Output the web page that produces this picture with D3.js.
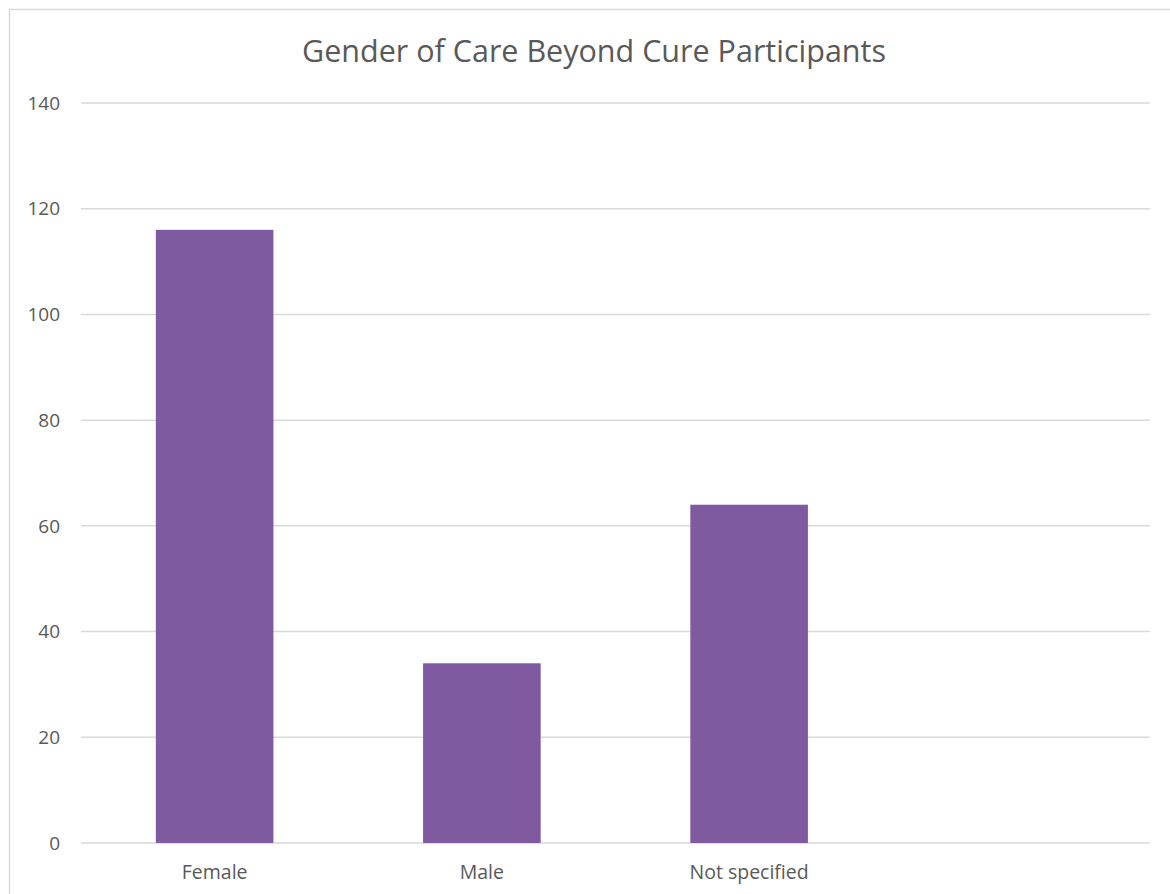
<!DOCTYPE html>
<html>
<head>
<meta charset="utf-8">
<script src="https://cdn.jsdelivr.net/npm/d3@7/dist/d3.min.js"></script>
<style>
  html, body { margin: 0; padding: 0; background: #fff; }
  svg { display: block; }
  text { font-family: "Open Sans", Lato, sans-serif; fill: #595959; }
</style>
</head>
<body>
<svg id="chart" width="1170" height="894"></svg>
<script>
// Participant counts by gender; the last slot is an empty category
const categories = ["Female", "Male", "Not specified", ""];
const counts = [116, 34, 64, null];
const yTicks = [0, 20, 40, 60, 80, 100, 120, 140];
const title = "Gender of Care Beyond Cure Participants";

const svg = d3.select("#chart");
const W = 1170, H = 894;
const plot = { left: 81, right: 1150, top: 103, bottom: 843 };

// chart area frame
svg.append("rect")
  .attr("x", 9.5).attr("y", 9.5)
  .attr("width", W).attr("height", H)
  .attr("fill", "#fff")
  .attr("stroke", "#d9d9d9").attr("stroke-width", 1.5);

const x = d3.scaleBand()
  .domain(categories.map((c, i) => i))
  .range([plot.left, plot.right])
  .paddingInner(0.56).paddingOuter(0.28);

const y = d3.scaleLinear()
  .domain([0, 140])
  .range([plot.bottom, plot.top]);

// horizontal gridlines
svg.append("g")
  .selectAll("line")
  .data(yTicks)
  .join("line")
  .attr("x1", plot.left).attr("x2", plot.right)
  .attr("y1", d => y(d)).attr("y2", d => y(d))
  .attr("stroke", "#d9d9d9").attr("stroke-width", 1.5);

// y tick labels
svg.append("g")
  .selectAll("text")
  .data(yTicks)
  .join("text")
  .attr("x", 60)
  .attr("y", d => y(d))
  .attr("dy", "0.35em")
  .attr("text-anchor", "end")
  .style("font-size", "19px")
  .text(d => d);

// bars
const data = categories.map((c, i) => ({ i, c, v: counts[i] })).filter(d => d.v != null);
svg.append("g")
  .selectAll("rect")
  .data(data)
  .join("rect")
  .attr("x", d => x(d.i))
  .attr("width", x.bandwidth())
  .attr("y", d => y(d.v))
  .attr("height", d => y(0) - y(d.v))
  .attr("fill", "#805aa0");

// category labels
svg.append("g")
  .selectAll("text")
  .data(categories.map((c, i) => ({ c, i })))
  .join("text")
  .attr("x", d => x(d.i) + x.bandwidth() / 2)
  .attr("y", 879)
  .attr("text-anchor", "middle")
  .style("font-size", "19.5px")
  .text(d => d.c);

// title
svg.append("text")
  .attr("x", 594)
  .attr("y", 62)
  .attr("text-anchor", "middle")
  .style("font-size", "30.5px")
  .text(title);
</script>
</body>
</html>
